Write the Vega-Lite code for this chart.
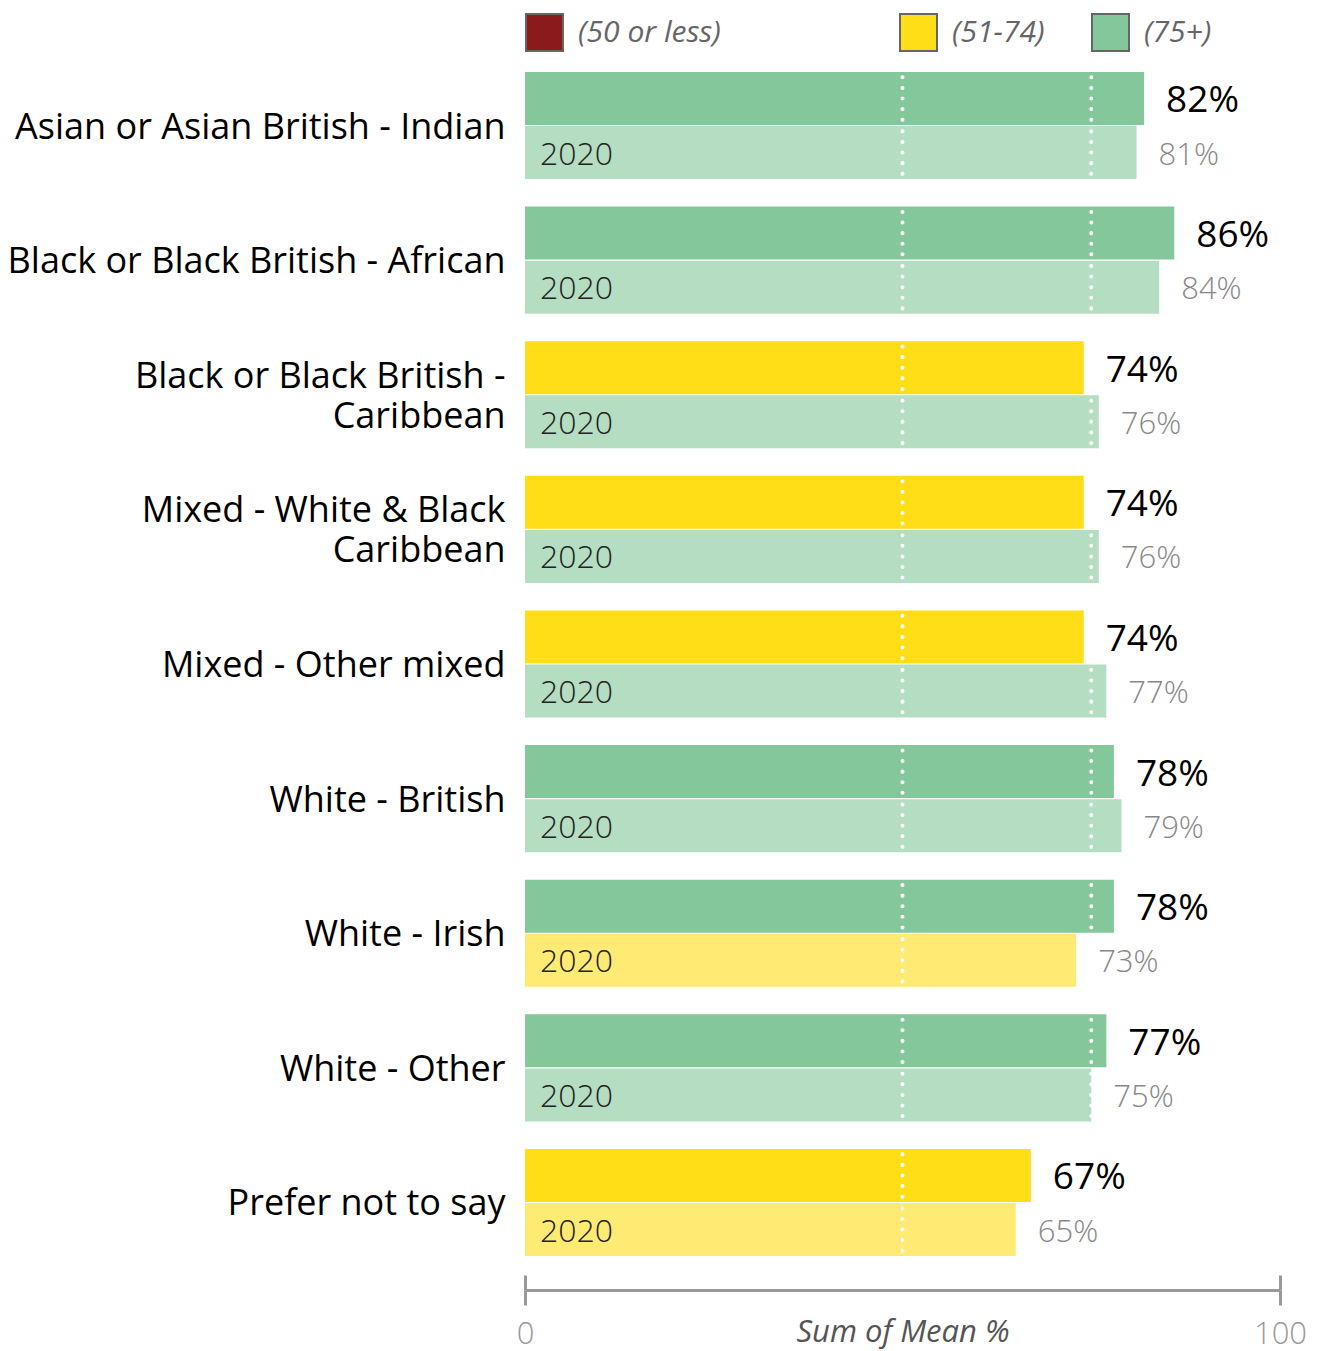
{
  "$schema": "https://vega.github.io/schema/vega-lite/v6.json",
  "width": 755,
  "height": 1184,
  "autosize": {"type": "none"},
  "padding": {"left": 525, "top": 72, "right": 42, "bottom": 95},
  "background": "white",
  "config": {"view": {"stroke": null}, "font": "Open Sans"},
  "data": {
    "values": [
      {"cat": "Asian or Asian British - Indian", "period": "Current", "value": 0.82, "band": "(75+)"},
      {"cat": "Asian or Asian British - Indian", "period": "2020", "value": 0.81, "band": "(75+)"},
      {"cat": "Black or Black British - African", "period": "Current", "value": 0.86, "band": "(75+)"},
      {"cat": "Black or Black British - African", "period": "2020", "value": 0.84, "band": "(75+)"},
      {"cat": "Black or Black British - Caribbean", "period": "Current", "value": 0.74, "band": "(51-74)"},
      {"cat": "Black or Black British - Caribbean", "period": "2020", "value": 0.76, "band": "(75+)"},
      {"cat": "Mixed - White & Black Caribbean", "period": "Current", "value": 0.74, "band": "(51-74)"},
      {"cat": "Mixed - White & Black Caribbean", "period": "2020", "value": 0.76, "band": "(75+)"},
      {"cat": "Mixed - Other mixed", "period": "Current", "value": 0.74, "band": "(51-74)"},
      {"cat": "Mixed - Other mixed", "period": "2020", "value": 0.77, "band": "(75+)"},
      {"cat": "White - British", "period": "Current", "value": 0.78, "band": "(75+)"},
      {"cat": "White - British", "period": "2020", "value": 0.79, "band": "(75+)"},
      {"cat": "White - Irish", "period": "Current", "value": 0.78, "band": "(75+)"},
      {"cat": "White - Irish", "period": "2020", "value": 0.73, "band": "(51-74)"},
      {"cat": "White - Other", "period": "Current", "value": 0.77, "band": "(75+)"},
      {"cat": "White - Other", "period": "2020", "value": 0.75, "band": "(75+)"},
      {"cat": "Prefer not to say", "period": "Current", "value": 0.67, "band": "(51-74)"},
      {"cat": "Prefer not to say", "period": "2020", "value": 0.65, "band": "(51-74)"}
    ]
  },
  "encoding": {
    "y": {
      "field": "cat",
      "type": "nominal",
      "title": null,
      "sort": null,
      "scale": {
        "domain": ["Asian or Asian British - Indian", "Black or Black British - African", "Black or Black British - Caribbean", "Mixed - White & Black Caribbean", "Mixed - Other mixed", "White - British", "White - Irish", "White - Other", "Prefer not to say"],
        "paddingInner": 0.205,
        "paddingOuter": 0
      },
      "axis": {
        "domain": false,
        "ticks": false,
        "tickSize": 0,
        "labelPadding": 20,
        "labelFontSize": 36,
        "labelColor": "#000000",
        "labelLimit": 700,
        "labelLineHeight": 40,
        "labelOffset": {"condition": {"test": "datum.label == 'Black or Black British - Caribbean' || datum.label == 'Mixed - White & Black Caribbean'", "value": -18}, "value": 2},
        "labelExpr": "datum.label == 'Black or Black British - Caribbean' ? ['Black or Black British -', 'Caribbean'] : datum.label == 'Mixed - White & Black Caribbean' ? ['Mixed - White & Black', 'Caribbean'] : datum.label"
      }
    },
    "yOffset": {
      "field": "period",
      "type": "nominal",
      "sort": null,
      "scale": {"domain": ["Current", "2020"], "paddingInner": 0.02, "paddingOuter": 0}
    }
  },
  "layer": [
    {
      "mark": {"type": "bar"},
      "encoding": {
        "x": {
          "field": "value",
          "type": "quantitative",
          "scale": {"domain": [0, 1], "nice": false, "zero": true},
          "axis": {
            "orient": "bottom",
            "offset": 34,
            "values": [0, 1],
            "labelExpr": "format(datum.value * 100, 'd')",
            "labelFlush": false,
            "grid": false,
            "domainColor": "#999999",
            "domainWidth": 3,
            "tickColor": "#999999",
            "tickWidth": 3,
            "tickSize": 15,
            "labelFontSize": 31,
            "labelFontWeight": 300,
            "labelColor": "#999999",
            "labelPadding": 14,
            "title": "Sum of Mean %",
            "titleFontSize": 31,
            "titleFontStyle": "italic",
            "titleFontWeight": "normal",
            "titleColor": "#555555",
            "titlePadding": -32
          }
        },
        "color": {
          "field": "band",
          "type": "nominal",
          "scale": {"domain": ["(50 or less)", "(51-74)", "(75+)"], "range": ["#8B1A1D", "#FFDD17", "#84C79A"]},
          "legend": {
            "orient": "none",
            "legendX": 0,
            "legendY": -59,
            "direction": "horizontal",
            "title": null,
            "symbolType": "square",
            "symbolSize": 1369,
            "symbolStrokeColor": "#666666",
            "symbolStrokeWidth": 2,
            "symbolOpacity": 1,
            "labelFontSize": 30,
            "labelFontStyle": "italic",
            "labelColor": "#666666",
            "labelOffset": 14,
            "labelLimit": 1000,
            "columnPadding": 43,
            "labelExpr": "datum.label == '(50 or less)' ? '(50 or less)\u2800\u2800\u2800\u2800\u2800\u2800' : datum.label"
          }
        },
        "opacity": {
          "field": "period",
          "type": "nominal",
          "scale": {"domain": ["Current", "2020"], "range": [1, 0.6]},
          "legend": null
        }
      }
    },
    {
      "mark": {"type": "bar", "filled": false, "color": "white", "strokeWidth": 4, "strokeDash": [0, 10.59], "strokeDashOffset": 5.3, "strokeCap": "round"},
      "encoding": {
        "x": {
          "datum": 0.5,
          "type": "quantitative",
          "axis": {
            "orient": "bottom",
            "offset": 34,
            "values": [0, 1],
            "domain": false,
            "labels": false,
            "grid": false,
            "title": null,
            "tickSize": -15,
            "tickColor": "#999999",
            "tickWidth": 3
          }
        },
        "x2": {"datum": 0.5}
      }
    },
    {
      "transform": [{"filter": "datum.value >= 0.75"}],
      "mark": {"type": "bar", "filled": false, "color": "white", "strokeWidth": 4, "strokeDash": [0, 10.59], "strokeDashOffset": 5.3, "strokeCap": "round"},
      "encoding": {
        "x": {"datum": 0.75, "type": "quantitative", "axis": null},
        "x2": {"datum": 0.75}
      }
    },
    {
      "transform": [{"filter": "datum.period == 'Current'"}],
      "mark": {"type": "text", "align": "left", "baseline": "middle", "dx": 22, "dy": 3, "fontSize": 37, "fontWeight": 500, "color": "#000000"},
      "encoding": {
        "x": {"field": "value", "type": "quantitative", "axis": null},
        "text": {"field": "value", "type": "quantitative", "format": ".0%"}
      }
    },
    {
      "transform": [{"filter": "datum.period == '2020'"}],
      "mark": {"type": "text", "align": "left", "baseline": "middle", "dx": 22, "dy": 3, "fontSize": 31, "fontWeight": 300, "color": "#888888"},
      "encoding": {
        "x": {"field": "value", "type": "quantitative", "axis": null},
        "text": {"field": "value", "type": "quantitative", "format": ".0%"}
      }
    },
    {
      "transform": [{"filter": "datum.period == '2020'"}],
      "mark": {"type": "text", "align": "left", "baseline": "middle", "dx": 15, "dy": 2, "fontSize": 32, "fontWeight": 300, "color": "#222222"},
      "encoding": {
        "x": {"datum": 0, "type": "quantitative", "axis": null},
        "text": {"field": "period", "type": "nominal"}
      }
    }
  ],
  "resolve": {"axis": {"x": "independent"}}
}
